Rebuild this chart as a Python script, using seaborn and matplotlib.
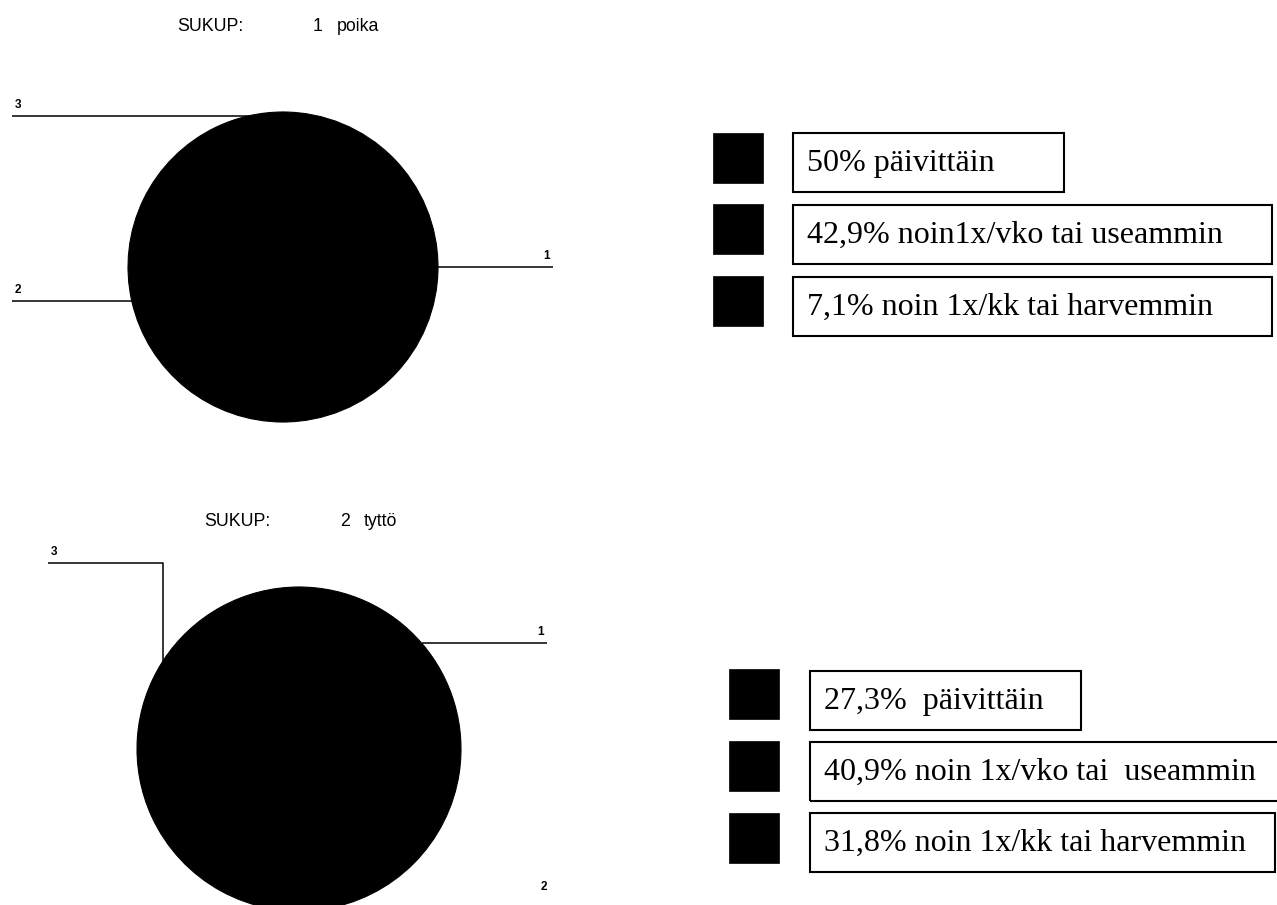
import numpy as np
import matplotlib
matplotlib.use("Agg")
import matplotlib.pyplot as plt
from matplotlib.patches import Rectangle
import seaborn as sns

W, H = 1277, 905

# Survey answers by gender (SUKUP), shares in percent
slice_ids = ["1", "2", "3"]
poika_values = [50.0, 42.9, 7.1]
tytto_values = [27.3, 40.9, 31.8]
poika_labels = ["50% päivittäin",
                "42,9% noin1x/vko tai useammin",
                "7,1% noin 1x/kk tai harvemmin"]
tytto_labels = ["27,3%  päivittäin",
                "40,9% noin 1x/vko tai  useammin",
                "31,8% noin 1x/kk tai harvemmin"]
slice_colors = ["black", "black", "black"]

sns.set_theme(style="white")
plt.rcParams["font.family"] = ["Liberation Sans", "DejaVu Sans"]
plt.rcParams["text.color"] = "black"

fig = plt.figure(figsize=(W / 100, H / 100), dpi=100)
ax = fig.add_axes([0, 0, 1, 1])


def Y(y):
    """page y (top-down) -> axis y (bottom-up)"""
    return H - y


def draw_title(x0, y, number, name):
    ax.text(x0, Y(y), "SUKUP:", fontsize=12.8, ha="left", va="center")
    ax.text(x0 + 136, Y(y), number, fontsize=12.8, ha="left", va="center")
    ax.text(x0 + 160, Y(y), name, fontsize=12.8, ha="left", va="center")


def draw_pie(values, cx, cy, r, routes):
    wedges, _ = ax.pie(values, colors=slice_colors, startangle=90,
                       counterclock=False, center=(cx, Y(cy)), radius=r,
                       wedgeprops=dict(linewidth=0.8, edgecolor="black"))
    for w, sid, route in zip(wedges, slice_ids, routes):
        mid = np.deg2rad((w.theta1 + w.theta2) / 2)
        px, py = cx + r * np.cos(mid), Y(cy) + r * np.sin(mid)
        kind = route[0]
        if kind == "h":
            x_end = route[1]
            ax.plot([px, x_end], [py, py], color="black", lw=1.1,
                    solid_capstyle="butt")
            lx, ly = x_end, py
        elif kind == "vh":
            y_turn, x_end = Y(route[1]), route[2]
            ax.plot([px, px, x_end], [py, y_turn, y_turn], color="black",
                    lw=1.1, solid_capstyle="butt")
            lx, ly = x_end, y_turn
        else:  # label only
            lx, ly = route[1], Y(route[2])
        ha = "left" if lx < cx else "right"
        ax.text(lx + (3 if ha == "left" else -3), ly + 5, sid,
                fontsize=8.5, fontweight="bold", ha=ha, va="bottom")


def draw_legend(labels, sq_x, box_x, box_rights, rows, text_size=23):
    for lab, color, right, (top, sq_top) in zip(labels, slice_colors,
                                                box_rights, rows):
        ax.add_patch(Rectangle((sq_x, Y(sq_top + 50)), 50, 50,
                               facecolor=color, edgecolor=color, lw=0.5))
        ax.add_patch(Rectangle((box_x, Y(top + 59)), right - box_x, 59,
                               fill=False, edgecolor="black", lw=1.5))
        ax.text(box_x + 14, Y(top + 30), lab, fontsize=text_size,
                family="Liberation Serif", ha="left", va="center")


# boys
draw_title(177, 27, "1", "poika")
draw_pie(poika_values, 283, 267, 155,
         [("h", 553), ("h", 12), ("h", 12)])
draw_legend(poika_labels, 713, 793, [1064, 1272, 1272],
            [(133, 133), (205, 204), (277, 276)])

# girls
draw_title(204, 522, "2", "tyttö")
draw_pie(tytto_values, 299, 749, 162,
         [("h", 547), ("label", 550, 898), ("vh", 563, 48)])
draw_legend(tytto_labels, 729, 810, [1081, 1290, 1275],
            [(671, 669), (742, 741), (813, 813)])

ax.set_xlim(0, W)
ax.set_ylim(0, H)
ax.set_aspect("auto")
ax.axis("off")

fig.savefig("out.png", dpi=100, facecolor="white")
